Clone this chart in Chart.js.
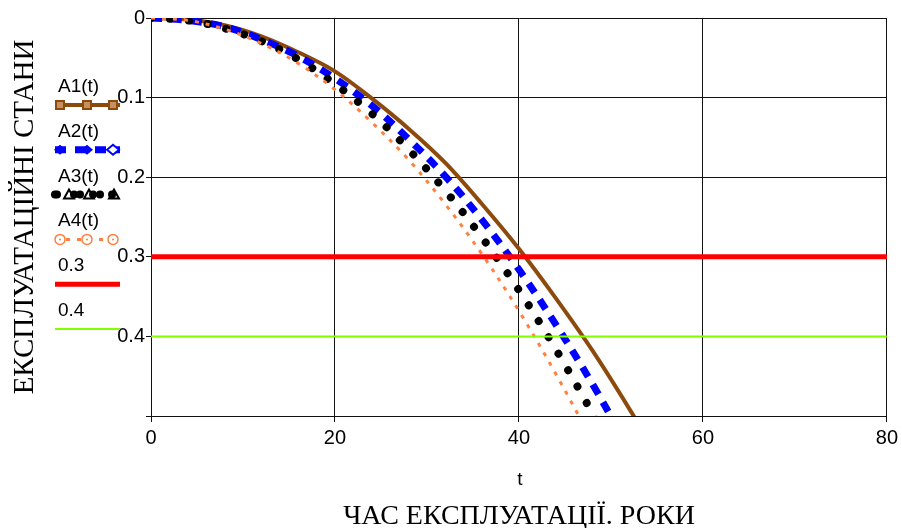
<!DOCTYPE html>
<html lang="uk">
<head>
<meta charset="UTF-8">
<title>Експлуатаційні стани</title>
<script src="https://cdn.jsdelivr.net/npm/chart.js@4.4.0/dist/chart.umd.min.js"></script>
<style>
body { margin: 0; background: white; }
#wrap { width: 902px; height: 528px; }
</style>
</head>
<body>
<div id="wrap"><canvas id="stateChart" width="902" height="528"></canvas></div>
<script>
// years of operation
const tYears = [0, 4, 8, 12, 16, 20, 24, 28, 32, 36, 40, 44, 48, 52, 56];
// states
const a1 = [0, 0.002, 0.009, 0.023, 0.043, 0.067, 0.101, 0.139, 0.182, 0.234, 0.290, 0.352, 0.418, 0.491, 0.568];
const a2 = [0, 0.003, 0.011, 0.027, 0.048, 0.076, 0.110, 0.152, 0.199, 0.254, 0.316, 0.385, 0.460, 0.543, 0.632];
const a3 = [0, 0.003, 0.013, 0.029, 0.052, 0.083, 0.120, 0.165, 0.217, 0.276, 0.342, 0.416, 0.497, 0.586, 0.682];
const a4 = [0, 0.003, 0.014, 0.032, 0.057, 0.090, 0.131, 0.178, 0.234, 0.297, 0.368, 0.447, 0.533, 0.627, 0.730];
const levels = [0.3, 0.4];
const xRange = [0, 80];
const xTicks = [0, 20, 40, 60, 80];
const yTicks = [0, 0.1, 0.2, 0.3, 0.4];
const seriesNames = ["A1(t)", "A2(t)", "A3(t)", "A4(t)", "0.3", "0.4"];

const pts = (ys) => tYears.map((t, i) => ({ x: t, y: ys[i] }));
const flat = (v) => xRange.map(x => ({ x: x, y: v }));

const sansFont = '"Liberation Sans Narrow", "Liberation Sans", Arial, sans-serif';
const serifFont = '"Liberation Serif", "Times New Roman", serif';

// legend + axis captions, drawn the way the old plot had them
const extras = {
    id: "extras",
    afterDraw(chart) {
        const ctx = chart.ctx;
        ctx.save();
        ctx.fillStyle = "#000";

        // y title
        ctx.save();
        ctx.translate(33, 217);
        ctx.rotate(-Math.PI / 2);
        ctx.font = "29px " + serifFont;
        ctx.textAlign = "center";
        ctx.textBaseline = "alphabetic";
        ctx.fillText("ЕКСПЛУАТАЦІЙНІ СТАНИ", 0, 0);
        ctx.restore();

        // x captions
        ctx.textAlign = "center";
        ctx.font = "19px " + sansFont;
        ctx.fillText("t", 520, 485);
        ctx.font = "28px " + serifFont;
        ctx.fillText("ЧАС ЕКСПЛУАТАЦІЇ. РОКИ", 519, 524);

        // legend
        ctx.textAlign = "left";
        ctx.font = '19px "Liberation Sans", Arial, sans-serif';
        const ds = chart.data.datasets;
        for (let i = 0; i < ds.length; i++) {
            const base = 92 + i * 44.8;
            const ly = base + 13;
            ctx.fillStyle = "#000";
            ctx.fillText(seriesNames[i], 58, base);

            ctx.save();
            ctx.strokeStyle = ds[i].borderColor;
            ctx.fillStyle = ds[i].borderColor;
            ctx.lineWidth = ds[i].borderWidth;
            ctx.setLineDash(ds[i].borderDash || []);
            ctx.lineCap = ds[i].borderCapStyle || "butt";
            ctx.beginPath();
            ctx.moveTo(55, ly);
            ctx.lineTo(120, ly);
            ctx.stroke();
            ctx.setLineDash([]);
            ctx.lineCap = "butt";
            const mx = [60, 87, 113];
            if (i === 0) {
                ctx.lineWidth = 2;
                ctx.fillStyle = "#c89060";
                mx.forEach(x => { ctx.fillRect(x - 4, ly - 4, 8, 8); ctx.strokeRect(x - 4, ly - 4, 8, 8); });
            } else if (i === 1) {
                mx.forEach((x, k) => {
                    ctx.beginPath();
                    ctx.moveTo(x - 6, ly); ctx.lineTo(x, ly - 5); ctx.lineTo(x + 6, ly); ctx.lineTo(x, ly + 5);
                    ctx.closePath();
                    if (k < 2) ctx.fill();
                    else { ctx.fillStyle = "#fff"; ctx.fill(); ctx.lineWidth = 2; ctx.stroke(); ctx.fillStyle = ds[i].borderColor; }
                });
            } else if (i === 2) {
                [57, 80, 100].forEach(x => { ctx.beginPath(); ctx.arc(x, ly, 4, 0, Math.PI * 2); ctx.fill(); });
                [69, 89, 114].forEach(x => {
                    ctx.beginPath();
                    ctx.moveTo(x - 5, ly + 4); ctx.lineTo(x, ly - 5); ctx.lineTo(x + 5, ly + 4);
                    ctx.closePath();
                    ctx.lineWidth = 2; ctx.stroke();
                });
            } else if (i === 3) {
                ctx.lineWidth = 1.5;
                mx.forEach(x => {
                    ctx.beginPath(); ctx.arc(x, ly, 5, 0, Math.PI * 2);
                    ctx.fillStyle = "#fff"; ctx.fill(); ctx.stroke();
                    ctx.beginPath(); ctx.arc(x, ly, 1, 0, Math.PI * 2);
                    ctx.fillStyle = ds[i].borderColor; ctx.fill();
                });
            }
            ctx.restore();
        }
        ctx.restore();
    }
};

const ctx = document.getElementById("stateChart").getContext("2d");
const chart = new Chart(ctx, {
    type: "line",
    data: {
        datasets: [
            { label: "A1(t)", data: pts(a1), borderColor: "#8c4a0c", borderWidth: 4, order: 6 },
            { label: "A2(t)", data: pts(a2), borderColor: "#0000ff", borderWidth: 7, borderDash: [11, 9], order: 5 },
            { label: "A3(t)", data: pts(a3), borderColor: "#000000", borderWidth: 8, borderDash: [0.01, 19], borderCapStyle: "round", order: 4 },
            { label: "A4(t)", data: pts(a4), borderColor: "#ff8040", borderWidth: 3, borderDash: [4, 7], order: 3 },
            { label: "0.3", data: flat(levels[0]), borderColor: "#ff0000", borderWidth: 5, order: 2 },
            { label: "0.4", data: flat(levels[1]), borderColor: "#80ff00", borderWidth: 2, order: 1 }
        ]
    },
    options: {
        responsive: false,
        animation: false,
        layout: { padding: { left: 0, top: 18, right: 15, bottom: 0 } },
        elements: {
            point: { radius: 0 },
            line: { tension: 0.35, borderJoinStyle: "round", fill: false }
        },
        datasets: { line: { clip: 0 } },
        plugins: { legend: { display: false }, tooltip: { enabled: false } },
        scales: {
            x: {
                type: "linear",
                min: xRange[0], max: xRange[1],
                afterFit(scale) { scale.height = 112; },
                afterBuildTicks(scale) { scale.ticks = xTicks.map(v => ({ value: v })); },
                ticks: { color: "#000", padding: 4, font: { family: sansFont, size: 20 } },
                grid: { color: "#111", lineWidth: 1, tickLength: 6 },
                border: { color: "#111", width: 1 }
            },
            y: {
                min: 0, max: 0.5,
                reverse: true,
                afterFit(scale) { scale.width = 151; },
                afterBuildTicks(scale) { scale.ticks = [0, 0.1, 0.2, 0.3, 0.4, 0.5].map(v => ({ value: v })); },
                ticks: {
                    color: "#000", padding: 1, font: { family: sansFont, size: 20 },
                    callback: (v) => {
                        const r = Math.round(v * 10) / 10;
                        return yTicks.includes(r) ? String(r) : "";
                    }
                },
                grid: { color: "#111", lineWidth: 1, tickLength: 5 },
                border: { color: "#111", width: 1 }
            }
        }
    },
    plugins: [extras]
});
</script>
</body>
</html>
